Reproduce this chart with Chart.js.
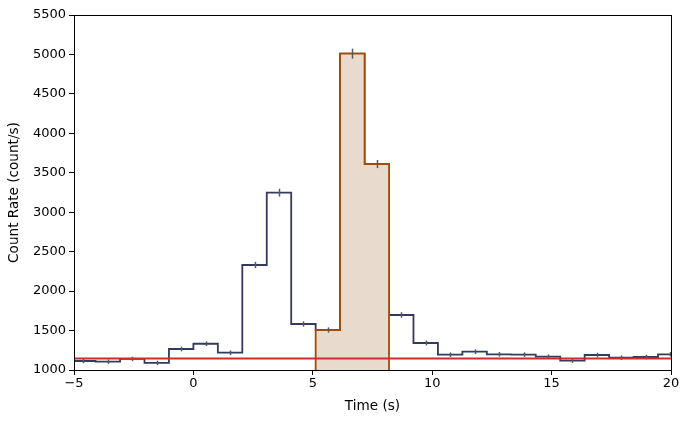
<!DOCTYPE html>
<html>
<head>
<meta charset="utf-8">
<script src="https://cdn.jsdelivr.net/npm/chart.js@4"></script>
<style>
  html, body { margin: 0; padding: 0; background: #fff; }
  #wrap { width: 689px; height: 423px; }
</style>
</head>
<body>
<div id="wrap"><canvas id="lc"></canvas></div>
<script>
// light curve bins (left edges, s) and rates
const binEdges = [-5.12, -4.096, -3.072, -2.048, -1.024, 0, 1.024, 2.048, 3.072, 4.096,
    5.12, 6.144, 7.168, 8.192, 9.216, 10.24, 11.264, 12.288, 13.312, 14.336,
    15.36, 16.384, 17.408, 18.432, 19.456];
const lastEdge = 20.48;
const rates = [1114, 1105, 1140, 1090, 1266, 1333, 1219, 2331, 3248, 1583,
    1507, 5010, 3611, 1697, 1342, 1194, 1232, 1199, 1195, 1169,
    1118, 1190, 1156, 1165, 1199];
const rateErr = [28, 28, 28, 28, 30, 30, 29, 40, 50, 34,
    33, 63, 52, 36, 31, 29, 30, 29, 29, 29,
    28, 29, 29, 29, 29];
const background = 1145;
const burstFrom = 10, burstTo = 12; // indexes of the shaded bins
const xTicks = [-5, 0, 5, 10, 15, 20];

// step points: each point closes the bin that started at the previous one
const lcPoints = [{x: binEdges[0], y: rates[0]}];
for (let i = 0; i < rates.length; i++) {
    const right = i + 1 < binEdges.length ? binEdges[i + 1] : lastEdge;
    lcPoints.push({x: right, y: rates[i]});
    if (i + 1 < rates.length) lcPoints.push({x: right, y: rates[i + 1]});
}

const burstPoints = [{x: binEdges[burstFrom], y: 1000}];
for (let i = burstFrom; i <= burstTo; i++) {
    burstPoints.push({x: binEdges[i], y: rates[i]});
    burstPoints.push({x: binEdges[i + 1], y: rates[i]});
}
burstPoints.push({x: binEdges[burstTo + 1], y: 1000});

const fmt = (v) => v < 0 ? '\u2212' + Math.abs(v) : String(v);

const errBars = {
    id: 'errBars',
    afterDatasetsDraw(chart) {
        const ctx = chart.ctx, xs = chart.scales.x, ys = chart.scales.y;
        const a = chart.chartArea;
        ctx.save();
        ctx.beginPath();
        ctx.rect(a.left, a.top, a.right - a.left, a.bottom - a.top);
        ctx.clip();
        ctx.strokeStyle = '#595959';
        ctx.lineWidth = 1.5;
        binEdges.forEach((t, i) => {
            const right = i + 1 < binEdges.length ? binEdges[i + 1] : lastEdge;
            const px = Math.round(xs.getPixelForValue((t + right) / 2)) + 0.5;
            ctx.beginPath();
            ctx.moveTo(px, ys.getPixelForValue(rates[i] - rateErr[i]));
            ctx.lineTo(px, ys.getPixelForValue(rates[i] + rateErr[i]));
            ctx.stroke();
        });
        // red background level on top
        ctx.strokeStyle = '#c8302c';
        ctx.lineWidth = 2;
        const by = ys.getPixelForValue(background);
        ctx.beginPath();
        ctx.moveTo(a.left, by);
        ctx.lineTo(a.right, by);
        ctx.stroke();
        ctx.restore();
        // frame
        ctx.save();
        ctx.strokeStyle = '#000';
        ctx.lineWidth = 1;
        ctx.strokeRect(Math.round(a.left) + 0.5, Math.round(a.top) + 0.5,
            Math.round(a.right - a.left), Math.round(a.bottom - a.top));
        ctx.restore();
    }
};

const lcChart = new Chart(document.getElementById('lc'), {
    type: 'line',
    data: {
        datasets: [
            {
                data: burstPoints,
                borderColor: '#a24c0c',
                backgroundColor: '#e9dace',
                borderWidth: 1.8,
                fill: 'start',
                pointRadius: 0,
                tension: 0,
                order: 1
            },
            {
                data: lcPoints,
                borderColor: '#323a5e',
                borderWidth: 1.8,
                fill: false,
                pointRadius: 0,
                tension: 0,
                order: 2
            }
        ]
    },
    options: {
        responsive: true,
        maintainAspectRatio: false,
        animation: false,
        layout: { padding: { top: 15, right: 18, left: 6, bottom: 0 } },
        plugins: { legend: { display: false }, tooltip: { enabled: false } },
        scales: {
            x: {
                type: 'linear',
                min: -5, max: 20,
                afterBuildTicks: (s) => { s.ticks = xTicks.map(v => ({value: v})); },
                afterFit: (s) => { s.height = 53; },
                grid: { drawOnChartArea: false, color: '#000', tickLength: 5, tickWidth: 1 },
                border: { color: '#000' },
                ticks: { color: '#000', font: { family: 'DejaVu Sans', size: 13 }, padding: 1, maxRotation: 0,
                    callback: fmt },
                title: { display: true, text: 'Time (s)', color: '#000', font: { family: 'DejaVu Sans', size: 13.6 }, padding: { top: 0, bottom: 8 } }
            },
            y: {
                min: 1000, max: 5500,
                ticks: { stepSize: 500, color: '#000', font: { family: 'DejaVu Sans', size: 13 }, padding: 3,
                    callback: fmt },
                afterFit: (s) => { s.width = 68; },
                grid: { drawOnChartArea: false, color: '#000', tickLength: 5, tickWidth: 1 },
                border: { color: '#000' },
                title: { display: true, text: 'Count Rate (count/s)', color: '#000', font: { family: 'DejaVu Sans', size: 13.6 }, padding: { top: 0, bottom: 0 } }
            }
        }
    },
    plugins: [errBars]
});
</script>
</body>
</html>
